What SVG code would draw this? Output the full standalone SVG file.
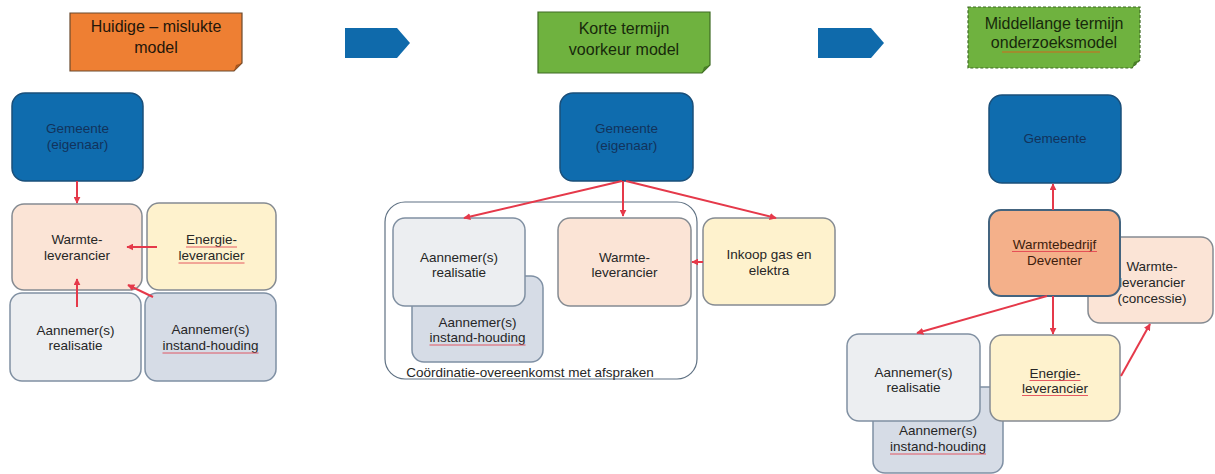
<svg xmlns="http://www.w3.org/2000/svg" width="1215" height="474" viewBox="0 0 1215 474">
<style>
text{font-family:"Liberation Sans",Arial,sans-serif;text-anchor:middle}
.t{font-size:13.5px;fill:#262626}
.tg{font-size:13.5px;fill:#12335c}
.tt{font-size:16px;fill:#24160a}
.tgr{font-size:16px;fill:#17290b}
.blue{fill:#0f6cae;stroke:#1a4f7a;stroke-width:1.5}
.peach{fill:#fbe4d6;stroke:#858b92;stroke-width:1.5}
.yel{fill:#fef2cd;stroke:#858b92;stroke-width:1.5}
.grey{fill:#eceef1;stroke:#8090a2;stroke-width:1.5}
.bgrey{fill:#d6dce6;stroke:#7f90a4;stroke-width:1.5}
.salmon{fill:#f4b08a;stroke:#44647f;stroke-width:2}
.cont{fill:#ffffff;stroke:#5f7183;stroke-width:1.2}
.conn{stroke:#e5394a;stroke-width:2;fill:none;marker-end:url(#ah)}
.sp{stroke:#e2404e;stroke-width:1;fill:none;opacity:.85}
.pent{fill:#0f6aab}
</style>
<defs>
<marker id="ah" viewBox="0 0 10 10" refX="9" refY="5" markerWidth="7" markerHeight="7" orient="auto" markerUnits="userSpaceOnUse"><path d="M0,0 L10,5 L0,10 z" fill="#e5394a"/></marker>
</defs>
<rect width="1215" height="474" fill="#ffffff"/>

<!-- titles -->
<g id="title1">
<path d="M70,13 H242 V63 L234,71 H70 Z" fill="#ee7f33" stroke="#6b4a2e" stroke-width="1.2"/>
<path d="M242,63 L234,71 L236,65 Z" fill="#a8561f"/>
<text class="tt" x="156" y="31.5">Huidige – mislukte</text>
<text class="tt" x="156" y="52.5">model</text>
</g>
<g id="arrow1"><path class="pent" d="M345,28 H397 L410,43 L397,58 H345 Z"/></g>
<g id="title2">
<path d="M538,12 H710 V65 L702,73 H538 Z" fill="#6fb23f" stroke="#3e6b24" stroke-width="1.2"/>
<path d="M710,65 L702,73 L704,67 Z" fill="#4a7f28"/>
<text class="tgr" x="624" y="33.5">Korte termijn</text>
<text class="tgr" x="624" y="54.5">voorkeur model</text>
</g>
<g id="arrow2"><path class="pent" d="M818,28 H871 L884,43 L871,58 H818 Z"/></g>
<g id="title3">
<path d="M968,7 H1140 V60 L1132,68 H968 Z" fill="#6fb23f" stroke="#3e6b24" stroke-width="1.2" stroke-dasharray="3,2"/>
<path d="M1140,60 L1132,68 L1134,62 Z" fill="#4a7f28"/>
<text class="tgr" x="1054" y="28.5">Middellange termijn</text>
<text class="tgr" x="1054" y="47.5">onderzoeksmodel</text>
<path d="M1002,52 H1100" stroke="#d2691e" stroke-width="1.2"/>
</g>

<!-- panel 1 -->
<g id="p1-gemeente">
<rect class="blue" x="12" y="93" width="131" height="88" rx="13"/>
<text class="tg" x="77.5" y="132.5">Gemeente</text>
<text class="tg" x="77.5" y="149">(eigenaar)</text>
</g>
<g id="p1-warmte">
<rect class="peach" x="12" y="204" width="130" height="86" rx="12"/>
<text class="t" x="77" y="243.5">Warmte-</text>
<text class="t" x="77" y="259.5">leverancier</text>
</g>
<g id="p1-energie">
<rect class="yel" x="147" y="203" width="129" height="87" rx="12"/>
<text class="t" x="211.5" y="243.5">Energie-</text>
<text class="t" x="211.5" y="259.5">leverancier</text>
<path class="sp" d="M186,247 H237 M178.5,263 H244.5"/>
</g>
<g id="p1-realisatie">
<rect class="grey" x="10" y="293" width="131" height="88" rx="12"/>
<text class="t" x="75.5" y="334.5">Aannemer(s)</text>
<text class="t" x="75.5" y="350">realisatie</text>
</g>
<g id="p1-instand">
<rect class="bgrey" x="145" y="293" width="131" height="88" rx="12"/>
<text class="t" x="210.5" y="333.5">Aannemer(s)</text>
<text class="t" x="210.5" y="349.5">instand-houding</text>
<path class="sp" d="M162.5,353 H258.5"/>
</g>

<!-- panel 2 -->
<g id="p2-container">
<rect class="cont" x="385" y="202" width="312" height="177" rx="20"/>
<text class="t" x="530" y="377">Coördinatie-overeenkomst met afspraken</text>
</g>
<g id="p2-gemeente">
<rect class="blue" x="560" y="93" width="133" height="88" rx="13"/>
<text class="tg" x="626.5" y="132.5">Gemeente</text>
<text class="tg" x="626.5" y="149.5">(eigenaar)</text>
</g>
<g id="p2-instand">
<rect class="bgrey" x="412" y="276" width="131" height="86" rx="12"/>
<text class="t" x="477.5" y="326.5">Aannemer(s)</text>
<text class="t" x="477.5" y="342">instand-houding</text>
<path class="sp" d="M429.5,345 H525.5"/>
</g>
<g id="p2-realisatie">
<rect class="grey" x="393" y="218" width="132" height="88" rx="12"/>
<text class="t" x="459" y="261.5">Aannemer(s)</text>
<text class="t" x="459" y="276.5">realisatie</text>
</g>
<g id="p2-warmte">
<rect class="peach" x="558" y="218" width="133" height="88" rx="12"/>
<text class="t" x="624.5" y="261.5">Warmte-</text>
<text class="t" x="624.5" y="276.5">leverancier</text>
</g>
<g id="p2-inkoop">
<rect class="yel" x="703" y="218" width="132" height="87" rx="12"/>
<text class="t" x="769" y="258.5">Inkoop gas en</text>
<text class="t" x="769" y="275">elektra</text>
</g>

<!-- panel 3 -->
<g id="p3-gemeente">
<rect class="blue" x="989" y="95" width="132" height="88" rx="13"/>
<text class="tg" x="1055" y="142.5">Gemeente</text>
</g>
<g id="p3-concessie">
<rect class="peach" x="1088" y="237" width="125" height="86" rx="12"/>
<text class="t" x="1152" y="270.5">Warmte-</text>
<text class="t" x="1152" y="286.5">leverancier</text>
<text class="t" x="1152" y="302.5">(concessie)</text>
</g>
<g id="p3-warmtebedrijf">
<rect class="salmon" x="989" y="210" width="131" height="86" rx="12"/>
<text class="t" x="1054.5" y="248.5" style="fill:#3d1c0c">Warmtebedrijf</text>
<text class="t" x="1054.5" y="265" style="fill:#3d1c0c">Deventer</text>
<path class="sp" d="M1012,251.5 H1097"/>
</g>
<g id="p3-instand">
<rect class="bgrey" x="873" y="387" width="130" height="86" rx="12"/>
<text class="t" x="938" y="434.5">Aannemer(s)</text>
<text class="t" x="938" y="451">instand-houding</text>
<path class="sp" d="M890,454 H986"/>
</g>
<g id="p3-realisatie">
<rect class="grey" x="847" y="334" width="133" height="87" rx="12"/>
<text class="t" x="913.5" y="376.5">Aannemer(s)</text>
<text class="t" x="913.5" y="391.5">realisatie</text>
</g>
<g id="p3-energie">
<rect class="yel" x="990" y="335" width="130" height="86" rx="12"/>
<text class="t" x="1055" y="377.5">Energie-</text>
<text class="t" x="1055" y="392.5">leverancier</text>
<path class="sp" d="M1029.5,380.5 H1080.5 M1022,395.5 H1088"/>
</g>

<!-- connectors -->
<g id="connectors">
<path class="conn" d="M77,181 V203"/>
<path class="conn" d="M157,247 H127"/>
<path class="conn" d="M77,307 V279"/>
<path class="conn" d="M153,297 L128,285"/>
<path class="conn" d="M622,181 L464,218"/>
<path class="conn" d="M623,181 V216"/>
<path class="conn" d="M626,181 L776,218"/>
<path class="conn" d="M703,262 H692"/>
<path class="conn" d="M1053,210 V184"/>
<path class="conn" d="M1047,296 L917,333"/>
<path class="conn" d="M1053,296 V334"/>
<path class="conn" d="M1121,376 L1150,324"/>
</g>
</svg>
